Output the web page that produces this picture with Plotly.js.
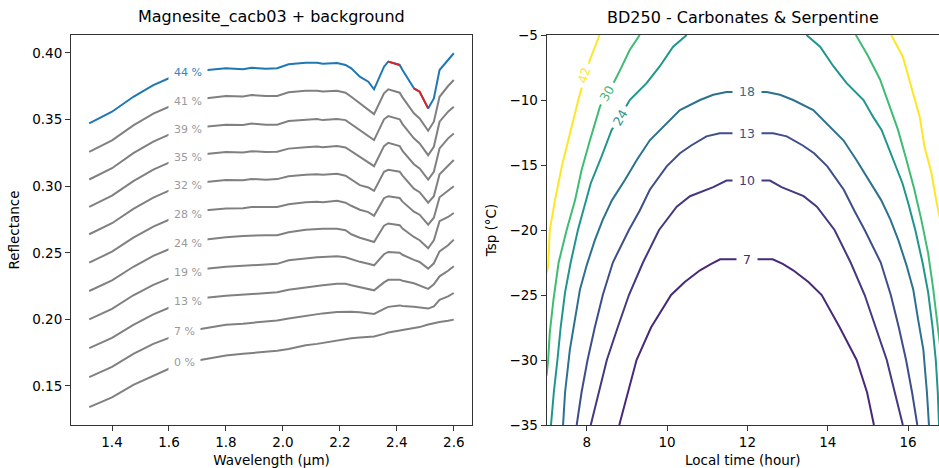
<!DOCTYPE html>
<html>
<head>
<meta charset="utf-8">
<script src="https://cdn.plot.ly/plotly-3.0.1.min.js"></script>
<style>html,body{margin:0;padding:0;background:#fff}#chart{width:939px;height:468px}</style>
</head>
<body>
<div id="chart"></div>
<script>
// ---------- Left panel: spectra ----------
const wavelength = [1.32,1.40,1.475,1.545,1.60,1.64,1.68,1.73,1.80,1.86,1.89,1.94,1.98,2.02,2.08,2.12,2.14,2.19,2.22,2.24,2.27,2.30,2.32,2.355,2.37,2.41,2.42,2.46,2.48,2.51,2.53,2.55,2.58,2.60];
const refl_44 = [0.3471,0.3559,0.3671,0.3759,0.3810,0.3842,0.3861,0.3872,0.3885,0.3878,0.3889,0.3882,0.3885,0.3915,0.3927,0.3927,0.3920,0.3925,0.3910,0.3885,0.3822,0.3784,0.3727,0.3897,0.3935,0.3910,0.3872,0.3735,0.3709,0.3584,0.3659,0.3872,0.3947,0.3998];
const refl_41 = [0.3258,0.3344,0.3457,0.3545,0.3596,0.3628,0.3647,0.3659,0.3677,0.3673,0.3684,0.3677,0.3677,0.3705,0.3717,0.3717,0.3711,0.3717,0.3702,0.3671,0.3622,0.3577,0.3541,0.3697,0.3727,0.3702,0.3667,0.3547,0.3509,0.3416,0.3484,0.3671,0.3752,0.3797];
const refl_39 = [0.3050,0.3135,0.3248,0.3335,0.3387,0.3417,0.3436,0.3446,0.3462,0.3459,0.3470,0.3462,0.3462,0.3489,0.3500,0.3504,0.3496,0.3504,0.3496,0.3466,0.3416,0.3371,0.3346,0.3502,0.3526,0.3502,0.3466,0.3359,0.3321,0.3233,0.3296,0.3484,0.3559,0.3596];
const refl_35 = [0.2844,0.2929,0.3038,0.3124,0.3177,0.3207,0.3226,0.3241,0.3256,0.3252,0.3263,0.3256,0.3259,0.3282,0.3293,0.3297,0.3293,0.3301,0.3291,0.3263,0.3216,0.3175,0.3150,0.3301,0.3326,0.3301,0.3265,0.3165,0.3133,0.3050,0.3108,0.3284,0.3359,0.3396];
const refl_32 = [0.2639,0.2722,0.2829,0.2914,0.2966,0.2996,0.3015,0.3032,0.3047,0.3045,0.3054,0.3049,0.3053,0.3074,0.3086,0.3090,0.3086,0.3094,0.3079,0.3050,0.3008,0.2990,0.2965,0.3108,0.3123,0.3109,0.3079,0.2981,0.2955,0.2876,0.2925,0.3090,0.3158,0.3196];
const refl_28 = [0.2426,0.2508,0.2613,0.2696,0.2748,0.2778,0.2801,0.2820,0.2832,0.2835,0.2844,0.2842,0.2844,0.2865,0.2880,0.2884,0.2880,0.2890,0.2876,0.2853,0.2823,0.2805,0.2778,0.2910,0.2925,0.2911,0.2884,0.2808,0.2786,0.2711,0.2763,0.2917,0.2970,0.3000];
const refl_24 = [0.2213,0.2293,0.2395,0.2477,0.2526,0.2556,0.2583,0.2599,0.2617,0.2626,0.2629,0.2632,0.2632,0.2654,0.2673,0.2679,0.2681,0.2681,0.2669,0.2639,0.2613,0.2594,0.2581,0.2703,0.2720,0.2707,0.2682,0.2619,0.2594,0.2534,0.2594,0.2737,0.2769,0.2799];
const refl_19 = [0.2000,0.2079,0.2181,0.2259,0.2308,0.2338,0.2365,0.2381,0.2396,0.2402,0.2406,0.2410,0.2417,0.2444,0.2459,0.2466,0.2468,0.2474,0.2466,0.2451,0.2432,0.2417,0.2406,0.2489,0.2506,0.2500,0.2485,0.2447,0.2431,0.2381,0.2421,0.2511,0.2556,0.2599];
const refl_13 = [0.1784,0.1861,0.1959,0.2038,0.2087,0.2120,0.2143,0.2163,0.2177,0.2184,0.2188,0.2196,0.2203,0.2222,0.2241,0.2252,0.2256,0.2267,0.2267,0.2256,0.2241,0.2229,0.2218,0.2278,0.2297,0.2298,0.2290,0.2271,0.2256,0.2229,0.2263,0.2323,0.2365,0.2399];
const refl_7  = [0.1566,0.1643,0.1741,0.1816,0.1861,0.1895,0.1917,0.1936,0.1959,0.1968,0.1974,0.1983,0.1992,0.2007,0.2026,0.2038,0.2045,0.2055,0.2060,0.2058,0.2053,0.2047,0.2041,0.2079,0.2094,0.2105,0.2101,0.2094,0.2090,0.2081,0.2098,0.2147,0.2173,0.2198];
const refl_0  = [0.1341,0.1414,0.1508,0.1579,0.1629,0.1662,0.1684,0.1703,0.1729,0.1741,0.1747,0.1754,0.1765,0.1778,0.1805,0.1816,0.1823,0.1842,0.1855,0.1859,0.1863,0.1868,0.1872,0.1891,0.1902,0.1917,0.1921,0.1936,0.1942,0.1962,0.1974,0.1981,0.1989,0.1998];
const greySeries = [refl_41, refl_39, refl_35, refl_32, refl_28, refl_24, refl_19, refl_13, refl_7, refl_0];
const greyLabels = ['41 %','39 %','35 %','32 %','28 %','24 %','19 %','13 %','7 %','0 %'];
const blueLabel = '44 %';
const redSegments = [[24, 25], [27, 29]]; // index ranges in wavelength highlighted in red

// ---------- Right panel: contour lines ----------
const contourLevels = [7, 10, 13, 18, 24, 30, 42];
const time_7  = [8.81,9.02,9.24,9.6,10.1,10.44,10.82,11.1,11.32,12.63,12.88,13.14,13.52,13.85,14.3,14.72,14.98,15.15];
const tsp_7   = [-35,-32.5,-30,-27.5,-25,-24,-23.1,-22.6,-22.25,-22.25,-22.6,-23.1,-24,-25,-27.5,-30,-32.5,-35];
const time_10 = [8.1,8.3,8.5,8.77,9.05,9.4,9.8,10.24,10.57,11.15,11.48,12.56,12.85,13.4,13.73,14.17,14.57,14.92,15.2,15.47,15.67,15.87];
const tsp_10  = [-35,-32.5,-30,-27.5,-25,-22.5,-20,-18.2,-17.4,-16.7,-16.2,-16.2,-16.7,-17.4,-18.2,-20,-22.5,-25,-27.5,-30,-32.5,-35];
const time_13 = [7.75,7.87,8.02,8.2,8.4,8.65,9.05,9.32,9.57,9.99,10.32,10.6,10.98,11.31,12.64,12.98,13.38,13.66,13.99,14.4,14.66,14.92,15.32,15.57,15.77,15.95,16.1,16.23];
const tsp_13  = [-35,-32.5,-30,-27.5,-25,-22.5,-20,-18.5,-16.9,-15.1,-14.1,-13.5,-12.8,-12.56,-12.56,-12.8,-13.5,-14.1,-15.1,-16.9,-18.5,-20,-22.5,-25,-27.5,-30,-32.5,-35];
const time_18 = [7.41,7.46,7.58,7.71,7.83,8.0,8.2,8.4,8.63,8.95,9.25,9.57,9.95,10.32,10.82,11.15,11.48,12.48,12.81,13.14,13.64,14.01,14.39,14.71,15.01,15.33,15.56,15.76,15.96,16.13,16.25,16.38,16.47,16.52];
const tsp_18  = [-35,-32.5,-29.2,-26.9,-24.6,-22.7,-20.8,-19.2,-17.7,-16.15,-14.6,-13.1,-11.9,-10.77,-10,-9.6,-9.38,-9.38,-9.6,-10,-10.77,-11.9,-13.1,-14.6,-16.15,-17.7,-19.2,-20.8,-22.7,-24.6,-26.9,-29.2,-32.5,-35];
const time_24 = [7.11,7.18,7.27,7.35,7.46,7.6,7.78,7.95,8.1,8.35,8.62,8.83,9.07,9.49,9.82,10.15,10.49,null,13.47,13.81,14.14,14.47,14.89,15.13,15.34,15.61,15.86,16.01,16.18,16.36,16.5,16.61,16.69,16.74,16.77];
const tsp_24  = [-35,-32.5,-30,-27.5,-24.8,-22.5,-20,-18,-16.4,-14.5,-12.3,-11.3,-10,-8.7,-7.4,-5.9,-5,null,-5,-5.9,-7.4,-8.7,-10,-11.3,-12.3,-14.5,-16.4,-18,-20,-22.5,-24.8,-27.5,-30,-32.5,-35];
const time_30 = [7.0,7.04,7.08,7.17,7.3,7.5,7.71,7.87,8.08,8.33,8.5,8.7,8.83,9.07,9.32,null,14.7,15.0,15.3,15.55,15.75,15.95,16.15,16.33,16.5,16.62,16.72,16.8];
const tsp_30  = [-31.2,-30,-27.9,-25.4,-22.5,-20,-17.7,-15.4,-13.1,-10.5,-9.5,-8.5,-7.7,-6.15,-5,null,-5,-6.6,-8.4,-10.5,-12.3,-14.5,-16.8,-19.2,-21.8,-24.4,-26.9,-29];
const time_42 = [6.98,7.04,7.08,7.21,7.38,7.58,7.79,7.92,8.08,8.32,null,15.58,15.87,16.08,16.29,16.41,16.58,16.7,16.8];
const tsp_42  = [-23.5,-22.8,-20,-17.7,-15.1,-12.56,-10,-8.6,-6.9,-5,null,-5,-6.67,-9,-11.3,-13.6,-15.6,-17.7,-19.2];
const contourTimes = [time_7, time_10, time_13, time_18, time_24, time_30, time_42];
const contourTsps  = [tsp_7, tsp_10, tsp_13, tsp_18, tsp_24, tsp_30, tsp_42];
// label anchor positions (time, Tsp) and rotation for each level
const labelTime  = [12.0, 12.0, 12.0, 12.0, 8.83, 8.5, 7.93];
const labelTsp   = [-22.25, -16.2, -12.56, -9.38, -11.33, -9.5, -8.1];
const labelAngle = [0, 0, 0, 0, -59, -60, -74];

// ---------- styling ----------
const levelColors = ['#482878','#453781','#3d4e8a','#2c718e','#1f968b','#3fbc73','#fde725'];
const FONT = 'DejaVu Sans, Verdana, sans-serif';
const axisCol = '#333333';

const traces = [];
greySeries.forEach((s) => {
  traces.push({x: wavelength, y: s, type: 'scatter', mode: 'lines',
    line: {color: '#808080', width: 2}, xaxis: 'x', yaxis: 'y', hoverinfo: 'skip'});
});
traces.push({x: wavelength, y: refl_44, type: 'scatter', mode: 'lines',
  line: {color: '#1f77b4', width: 2}, xaxis: 'x', yaxis: 'y'});
redSegments.forEach(([a, b]) => {
  traces.push({x: wavelength.slice(a, b + 1), y: refl_44.slice(a, b + 1), type: 'scatter', mode: 'lines',
    line: {color: '#d62728', width: 2}, xaxis: 'x', yaxis: 'y'});
});
contourLevels.forEach((lv, i) => {
  traces.push({x: contourTimes[i], y: contourTsps[i], type: 'scatter', mode: 'lines',
    line: {color: levelColors[i], width: 2}, connectgaps: false, xaxis: 'x2', yaxis: 'y2', name: String(lv)});
});

const annotations = [];
// inline spectrum labels
const labelX = 1.596;
const allSeries = [refl_44].concat(greySeries);
const allLabels = [blueLabel].concat(greyLabels);
allSeries.forEach((s, i) => {
  annotations.push({xref: 'x', yref: 'y', x: labelX, y: (s[5] + s[6]) / 2, text: allLabels[i],
    showarrow: false, xanchor: 'left', yanchor: 'middle', bgcolor: '#ffffff', borderpad: 5,
    font: {family: FONT, size: 11, color: i === 0 ? '#2f86c2' : '#9a9a9a'}});
});
// contour labels
contourLevels.forEach((lv, i) => {
  annotations.push({xref: 'x2', yref: 'y2', x: labelTime[i], y: labelTsp[i], text: String(lv),
    showarrow: false, xanchor: 'center', yanchor: 'middle', textangle: labelAngle[i],
    bgcolor: '#ffffff', borderpad: i < 4 ? 6 : 4,
    font: {family: FONT, size: 12.5, color: levelColors[i]}});
});
// subplot titles
annotations.push({xref: 'paper', yref: 'paper', x: 0.231, y: 1.046, text: 'Magnesite_cacb03 + background',
  showarrow: false, xanchor: 'center', yanchor: 'middle', font: {family: FONT, size: 16, color: '#000'}});
annotations.push({xref: 'paper', yref: 'paper', x: 0.774, y: 1.046, text: 'BD250 - Carbonates & Serpentine',
  showarrow: false, xanchor: 'center', yanchor: 'middle', font: {family: FONT, size: 16, color: '#000'}});

const baseAxis = {showgrid: false, zeroline: false, showline: true, linecolor: axisCol, linewidth: 1,
  ticks: 'outside', ticklen: 5, tickwidth: 1, tickcolor: axisCol,
  tickfont: {family: FONT, size: 13.5, color: '#000'}, automargin: false};

const layout = {
  width: 939, height: 468,
  margin: {l: 71, r: 0, t: 35, b: 43},
  paper_bgcolor: '#ffffff', plot_bgcolor: '#ffffff',
  showlegend: false,
  font: {family: FONT},
  xaxis: Object.assign({}, baseAxis, {domain: [0, 0.462], range: [1.256, 2.664], mirror: true,
    tickvals: [1.4,1.6,1.8,2.0,2.2,2.4,2.6], tickformat: '.1f', anchor: 'y',
    title: {text: 'Wavelength (µm)', standoff: 9, font: {family: FONT, size: 13.5, color: '#000'}}}),
  yaxis: Object.assign({}, baseAxis, {domain: [0, 1], range: [0.1207, 0.4135], mirror: true,
    tickvals: [0.15,0.20,0.25,0.30,0.35,0.40], tickformat: '.2f', anchor: 'x',
    title: {text: 'Reflectance', standoff: 9, font: {family: FONT, size: 13.5, color: '#000'}}}),
  xaxis2: Object.assign({}, baseAxis, {domain: [0.5479, 1], range: [7, 16.77], mirror: true,
    tickvals: [8,10,12,14,16], anchor: 'y2',
    title: {text: 'Local time (hour)', standoff: 9, font: {family: FONT, size: 13.5, color: '#000'}}}),
  yaxis2: Object.assign({}, baseAxis, {domain: [0, 1], range: [-35, -5], mirror: false,
    tickvals: [-35,-30,-25,-20,-15,-10,-5], anchor: 'x2',
    title: {text: 'Tsp (°C)', standoff: 9, font: {family: FONT, size: 13.5, color: '#000'}}}),
  annotations: annotations
};

Plotly.newPlot('chart', traces, layout, {displayModeBar: false, staticPlot: true});
</script>
</body>
</html>
